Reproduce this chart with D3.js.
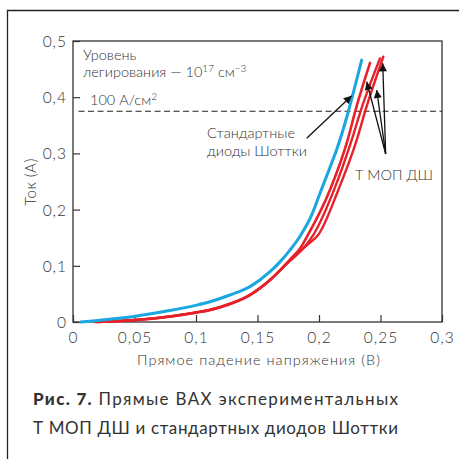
<!DOCTYPE html>
<html><head><meta charset="utf-8">
<script src="https://cdn.jsdelivr.net/npm/d3@7"></script>
<style>
html,body{margin:0;padding:0;background:#fff;}
svg{display:block;}
text{font-family:Lato,"Open Sans",sans-serif;fill:#333;}
</style></head>
<body>
<svg id="c" width="459" height="459"></svg>
<script>
const xTicks = [0, 0.05, 0.1, 0.15, 0.2, 0.25, 0.3];
const yTicks = [0, 0.1, 0.2, 0.3, 0.4, 0.5];
const xTickLabels = ["0", "0,05", "0,1", "0,15", "0,2", "0,25", "0,3"];
const yTickLabels = ["0", "0,1", "0,2", "0,3", "0,4", "0,5"];

const blueV = [0.0063, 0.03, 0.052, 0.075, 0.1006, 0.1114, 0.1276, 0.1439, 0.1602, 0.1683, 0.1764, 0.185, 0.194, 0.2008, 0.2089, 0.2144, 0.2234, 0.2286, 0.2347];
const blueI = [0, 0.005, 0.0107, 0.019, 0.030, 0.036, 0.048, 0.063, 0.0895, 0.107, 0.128, 0.154, 0.190, 0.229, 0.275, 0.307, 0.371, 0.414, 0.466];

const red1V = [0.0179, 0.052, 0.08, 0.1006, 0.1114, 0.1276, 0.1439, 0.1602, 0.1764, 0.1846, 0.191, 0.2089, 0.2233, 0.2297, 0.2415];
const red1I = [0, 0.0036, 0.010, 0.017, 0.0214, 0.032, 0.048, 0.0747, 0.111, 0.131, 0.155, 0.235, 0.324, 0.377, 0.461];

const red2V = [0.019, 0.052, 0.08, 0.1006, 0.1114, 0.1276, 0.1439, 0.1602, 0.1764, 0.186, 0.1954, 0.2122, 0.2266, 0.2341, 0.2496];
const red2I = [0, 0.0036, 0.010, 0.017, 0.0214, 0.032, 0.048, 0.0747, 0.109, 0.128, 0.155, 0.235, 0.324, 0.377, 0.469];

const red3V = [0.020, 0.052, 0.08, 0.1006, 0.1114, 0.1276, 0.1439, 0.1602, 0.1764, 0.1846, 0.192, 0.1994, 0.2157, 0.2307, 0.2378, 0.2523];
const red3I = [0, 0.004, 0.0105, 0.0175, 0.022, 0.0325, 0.0485, 0.075, 0.109, 0.126, 0.140, 0.155, 0.235, 0.324, 0.377, 0.472];

const refLevel = 0.375;
const xLabel = "Прямое падение напряжения (В)";
const yLabel = "Ток (А)";

const svg = d3.select("#c");
const x = d3.scaleLinear().domain([0, 0.3]).range([73, 442]);
const y = d3.scaleLinear().domain([0, 0.5]).range([322, 41]);

// outer frame
svg.append("path").attr("d", "M7.5,459V10.5H459").attr("fill","none").attr("stroke","#222").attr("stroke-width",1.3);

// axes (inward ticks)
const gx = svg.append("g").attr("transform", `translate(0,${y(0)})`)
  .call(d3.axisBottom(x).tickValues(xTicks).tickFormat((d,i)=>xTickLabels[i]).tickSizeInner(-7).tickSizeOuter(0).tickPadding(14));
const gy = svg.append("g").attr("transform", `translate(${x(0)},0)`)
  .call(d3.axisLeft(y).tickValues(yTicks).tickFormat((d,i)=>yTickLabels[i]).tickSizeInner(-7).tickSizeOuter(0).tickPadding(14));
[gx, gy].forEach(g => {
  g.select(".domain").remove();
  g.selectAll("line").attr("stroke","#333").attr("stroke-width",1.2);
  g.selectAll("text").attr("font-size",15.5).attr("font-family","Lato,sans-serif").attr("fill","#333")
    .attr("font-weight",300).attr("letter-spacing",1);
});
gy.selectAll("text").attr("dy","0.36em").attr("x",-6);
gx.selectAll("text").attr("dy","0.71em").attr("y",10);

// plot box
svg.append("rect").attr("x", x(0)).attr("y", y(0.5)).attr("width", x(0.3)-x(0)).attr("height", y(0)-y(0.5))
  .attr("fill","none").attr("stroke","#333").attr("stroke-width",1.3);

// dashed reference line
svg.append("line").attr("x1", x(0.0045)).attr("x2", x(0.3)).attr("y1", y(refLevel)).attr("y2", y(refLevel))
  .attr("stroke","#222").attr("stroke-width",1.2).attr("stroke-dasharray","6,3.5");

const line = d3.line().x(d=>x(d[0])).y(d=>y(d[1])).curve(d3.curveMonotoneX);
const series = [
  {v: red1V, i: red1I, c: "#e8202a", w: 2.6},
  {v: red2V, i: red2I, c: "#e8202a", w: 2.4},
  {v: red3V, i: red3I, c: "#e8202a", w: 2.4},
  {v: blueV, i: blueI, c: "#1aa6e0", w: 3}
];
series.forEach(s => {
  svg.append("path").datum(s.v.map((v,k)=>[v, s.i[k]])).attr("d", line)
    .attr("fill","none").attr("stroke", s.c).attr("stroke-width", s.w).attr("stroke-linecap","round");
});

// arrows
const defs = svg.append("defs");
defs.append("marker").attr("id","ah").attr("viewBox","0 0 10 10").attr("refX",10).attr("refY",5)
  .attr("markerWidth",10).attr("markerHeight",8).attr("markerUnits","userSpaceOnUse").attr("orient","auto")
  .append("path").attr("d","M0,0L10,5L0,10Z").attr("fill","#111");
const arrows = [
  [[0.190, 0.327], [0.2266, 0.4027]],
  [[0.2542, 0.299], [0.2388, 0.4276]],
  [[0.2542, 0.299], [0.2469, 0.4128]],
  [[0.2542, 0.299], [0.2518, 0.4603]]
];
arrows.forEach(a => {
  svg.append("line").attr("x1", x(a[0][0])).attr("y1", y(a[0][1])).attr("x2", x(a[1][0])).attr("y2", y(a[1][1]))
    .attr("stroke","#111").attr("stroke-width",1.3).attr("marker-end","url(#ah)");
});

// annotation text
const ann = svg.append("g").attr("font-size",14.5).attr("font-weight",300);
ann.append("text").attr("x", 83).attr("y", 60).text("Уровень");
const t2 = ann.append("text").attr("x", 83).attr("y", 77);
t2.append("tspan").text("легирования — 10");
t2.append("tspan").attr("font-size",10).attr("dy",-5).text("17");
t2.append("tspan").attr("dy",5).text(" см");
t2.append("tspan").attr("font-size",10).attr("dy",-5).text("−3");
const t3 = ann.append("text").attr("x", 90).attr("y", 105);
t3.append("tspan").text("100 А/см");
t3.append("tspan").attr("font-size",10).attr("dy",-5).text("2");
ann.append("text").attr("x", 207).attr("y", 138).text("Стандартные");
ann.append("text").attr("x", 207).attr("y", 156).text("диоды Шоттки");
ann.append("text").attr("x", 355).attr("y", 180).text("Т МОП ДШ");

// axis titles
svg.append("text").attr("x", 137).attr("y", 365)
  .attr("font-size",14.5).attr("font-weight",300).attr("textLength",243).attr("lengthAdjust","spacing").text(xLabel);
svg.append("text").attr("transform", `translate(36,182) rotate(-90)`).attr("text-anchor","middle")
  .attr("font-size",15).attr("font-weight",300).attr("letter-spacing",0.5).text(yLabel);

// caption
const c1 = svg.append("text").attr("x", 33).attr("y", 405).attr("font-size",17).attr("fill","#222")
  .attr("textLength",365).attr("lengthAdjust","spacing");
c1.append("tspan").attr("font-weight",900).text("Рис. 7.");
c1.append("tspan").attr("font-weight",400).text("  Прямые ВАХ экспериментальных");
svg.append("text").attr("x", 33).attr("y", 434).attr("font-size",17).attr("fill","#222")
  .attr("textLength",365).attr("lengthAdjust","spacing").text("Т МОП ДШ и стандартных диодов Шоттки");
</script>
</body></html>
